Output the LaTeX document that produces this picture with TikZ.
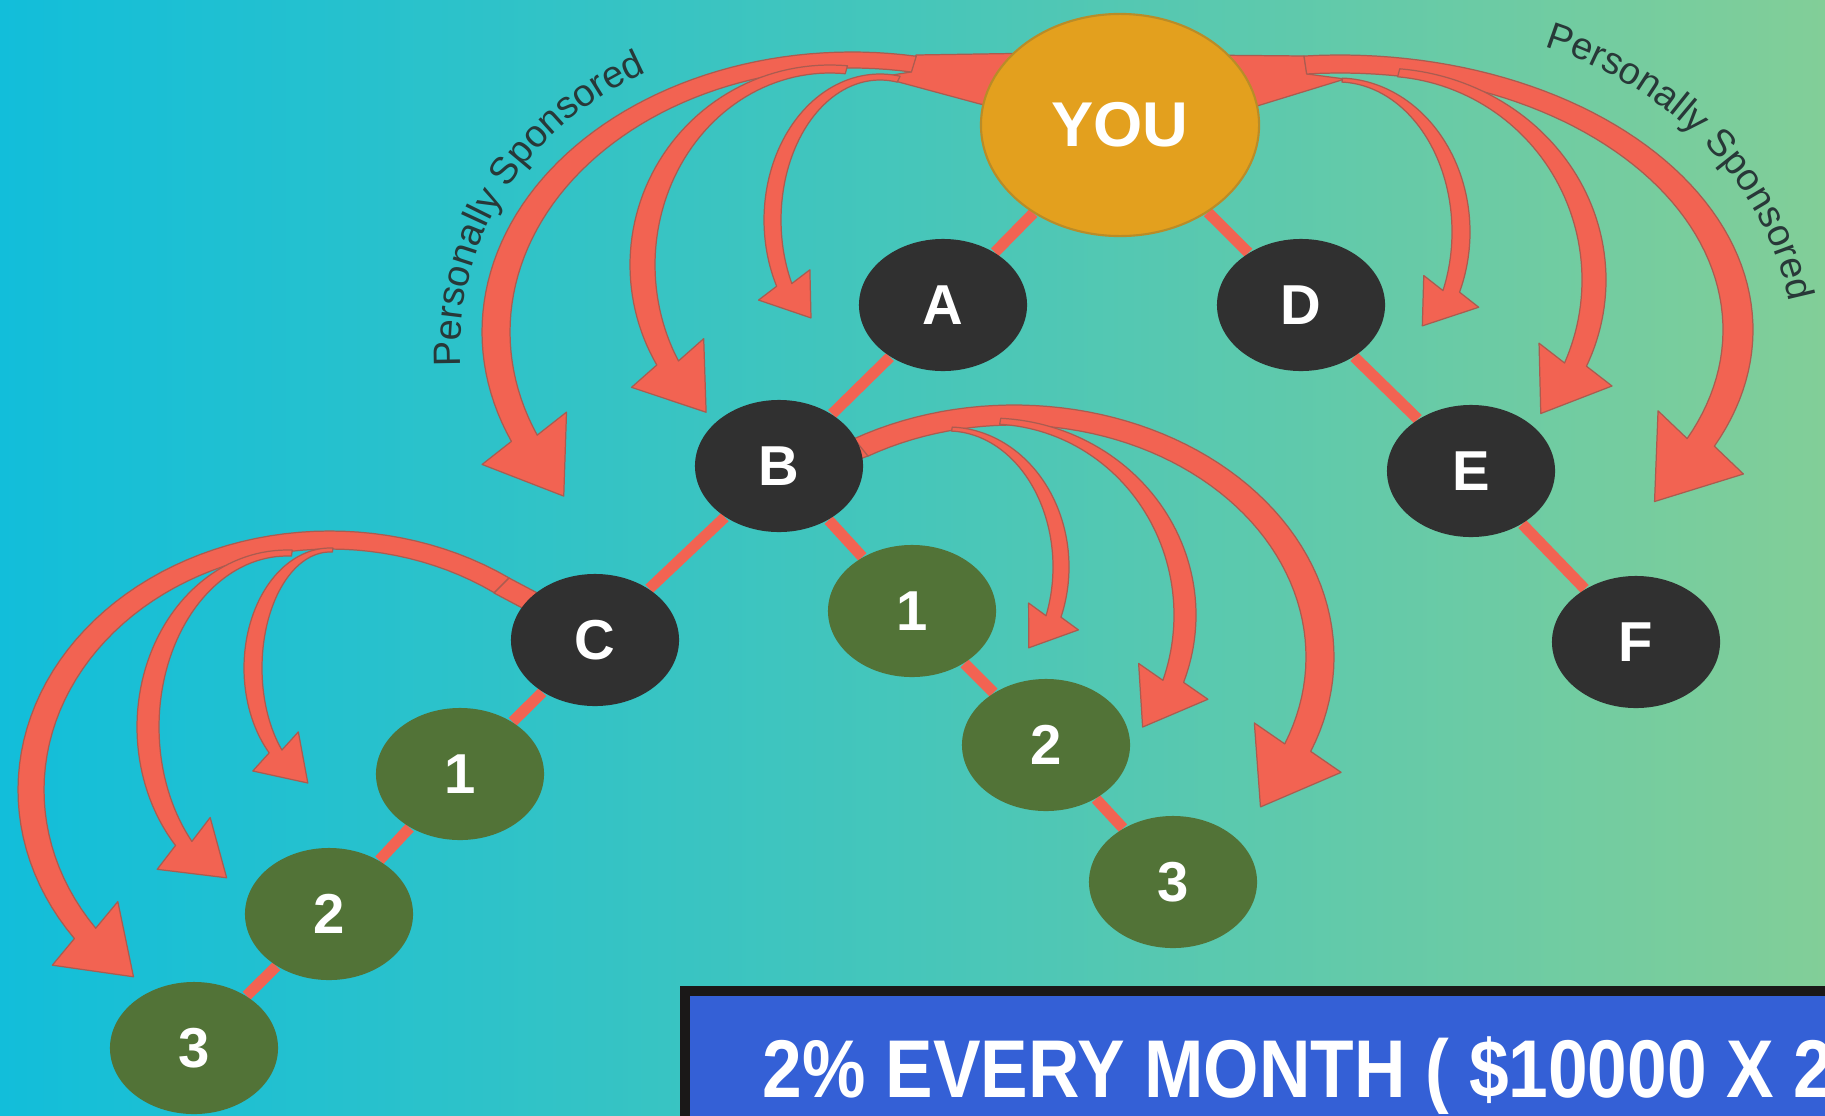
\documentclass[tikz,border=0pt]{standalone}
\usepackage{fontspec}
\setmainfont{Liberation Sans}
\usepackage{graphicx}
\usetikzlibrary{shapes.geometric,decorations.text}
\definecolor{bgL}{RGB}{18,190,218}
\definecolor{bgM}{RGB}{70,198,186}
\definecolor{bgR}{RGB}{130,206,152}
\definecolor{arrowred}{RGB}{242,99,82}
\definecolor{arrowedge}{RGB}{170,92,80}
\definecolor{nodedark}{RGB}{48,48,48}
\definecolor{nodegreen}{RGB}{82,115,55}
\definecolor{yougold}{RGB}{227,160,30}
\definecolor{youedge}{RGB}{185,140,40}
\definecolor{boxblue}{RGB}{52,96,214}
\definecolor{boxblack}{RGB}{26,24,24}
\definecolor{labelgray}{RGB}{40,56,56}
\pgfdeclarelayer{bg}
\pgfdeclarelayer{mid}
\pgfsetlayers{bg,mid,main}
% #1 cx, #2 cy, #3 a, #4 b, #5 side width, #6 top width, #7 tail angle, #8 head angle, #9 head turn
\newcommand{\swooshArrow}[9]{%
\pgfmathsetmacro{\swS}{(#8>#7)?1:-1}%
\pgfmathsetmacro{\swAi}{#3-#5}%
\pgfmathsetmacro{\swBi}{#4-#6}%
\pgfmathsetmacro{\swXo}{#1+#3*cos(#8)}%
\pgfmathsetmacro{\swYo}{#2+#4*sin(#8)}%
\pgfmathsetmacro{\swXi}{#1+\swAi*cos(#8)}%
\pgfmathsetmacro{\swYi}{#2+\swBi*sin(#8)}%
\pgfmathsetmacro{\swMx}{(\swXo+\swXi)/2}%
\pgfmathsetmacro{\swMy}{(\swYo+\swYi)/2}%
\pgfmathsetmacro{\swD}{veclen(\swXo-\swXi,\swYo-\swYi)}%
\pgfmathsetmacro{\swUx}{(\swXo-\swXi)/\swD}%
\pgfmathsetmacro{\swUy}{(\swYo-\swYi)/\swD}%
\pgfmathsetmacro{\swTx}{0-(\swS)*#3*sin(#8)}%
\pgfmathsetmacro{\swTy}{(\swS)*#4*cos(#8)}%
\pgfmathsetmacro{\swTn}{veclen(\swTx,\swTy)}%
\pgfmathsetmacro{\swRx}{((\swTx)*cos(#9)-(\swTy)*sin(#9))/\swTn}%
\pgfmathsetmacro{\swRy}{((\swTx)*sin(#9)+(\swTy)*cos(#9))/\swTn}%
\pgfmathsetmacro{\swQx}{((\swTx)*cos(#9/2)-(\swTy)*sin(#9/2))/\swTn}%
\pgfmathsetmacro{\swQy}{((\swTx)*sin(#9/2)+(\swTy)*cos(#9/2))/\swTn}%
\pgfmathsetmacro{\swSig}{(0-(\swQy)*(\swUx)+(\swQx)*(\swUy))>0?1:-1}%
\pgfmathsetmacro{\swPx}{(\swSig)*(0-(\swQy))}%
\pgfmathsetmacro{\swPy}{(\swSig)*(\swQx)}%
\pgfmathsetmacro{\swH}{\swD/2+1.3*#5}%
\pgfmathsetmacro{\swLen}{2.5*#5}%
\fill[swoosh] plot[domain=#7:#8, samples=60] ({#1+#3*cos(\x)},{#2+#4*sin(\x)})
 -- ({\swMx+\swH*\swPx},{\swMy+\swH*\swPy})
 -- ({\swMx+\swLen*\swRx},{\swMy+\swLen*\swRy})
 -- ({\swMx-\swH*\swPx},{\swMy-\swH*\swPy})
 -- plot[domain=#8:#7, samples=60] ({#1+\swAi*cos(\x)},{#2+\swBi*sin(\x)}) -- cycle;%
}
\begin{document}
\begin{tikzpicture}[x=0.01cm,y=-0.01cm,
  member/.style={ellipse, minimum width=1.68cm, minimum height=1.32cm, inner sep=0pt, text=white, font=\fontsize{16}{19}\selectfont\bfseries},
  darknode/.style={member, fill=nodedark},
  greennode/.style={member, fill=nodegreen},
  link/.style={draw=arrowred, line width=0.11cm},
  swoosh/.style={fill=arrowred, draw=arrowedge, line width=0.35pt, line join=round}
]
\useasboundingbox (0,0) rectangle (1825,1115);
\begin{pgfonlayer}{bg}
\shade[left color=bgL, right color=bgR, middle color=bgM] (0,0) rectangle (1825,1115);
\end{pgfonlayer}

% nodes
\node[ellipse, fill=yougold, draw=youedge, line width=0.6pt, minimum width=2.78cm, minimum height=2.22cm, inner sep=0pt, text=white, font=\fontsize{18}{21}\selectfont\bfseries] (you) at (1120,125) {YOU};
\node[darknode] (a) at (943,305) {A};
\node[darknode] (d) at (1301,305) {D};
\node[darknode] (b) at (779,466) {B};
\node[darknode] (e) at (1471,471) {E};
\node[darknode] (c) at (595,640) {C};
\node[darknode] (f) at (1636,642) {F};
\node[greennode] (b1) at (912,611) {1};
\node[greennode] (b2) at (1046,745) {2};
\node[greennode] (b3) at (1173,882) {3};
\node[greennode] (c1) at (460,774) {1};
\node[greennode] (c2) at (329,914) {2};
\node[greennode] (c3) at (194,1048) {3};

\begin{pgfonlayer}{mid}
% bands where the arrow groups leave their node
\fill[swoosh] (1045,53) -- (916,55) -- (911,72) -- (880,77) -- (980,104) -- (1045,117) -- cycle;
\fill[swoosh] (1195,55) -- (1304,56) -- (1307,74) -- (1345,79) -- (1257,106) -- (1195,114) -- cycle;
\fill[swoosh] (856,438) -- (830,446) -- (830,470) -- (868,456) -- cycle;
\fill[swoosh] (509,578) -- (545,597) -- (582,616) -- (560,628) -- (494,593) -- cycle;
% YOU, left side
\swooshArrow{852}{332}{370}{280}{28}{16}{280}{157}{-5}
\swooshArrow{830}{265}{200}{200}{25}{8}{275}{150}{-8}
\swooshArrow{880}{220}{116}{146}{17}{6}{280}{153}{-17}
% YOU, right side
\swooshArrow{1340}{330}{413}{275}{30}{18}{265}{385}{3}
\swooshArrow{1380}{280}{226}{212}{24}{8}{275}{384}{10}
\swooshArrow{1338}{232}{132}{154}{18}{4}{272}{383}{20}
% B
\swooshArrow{1014}{657}{320}{252}{28}{20}{240}{382}{5}
\swooshArrow{990}{615}{206}{197}{22}{6}{273}{380}{13}
\swooshArrow{948}{567}{121}{140}{16}{4}{272}{381}{20}
% C
\swooshArrow{330}{790}{312}{259}{26}{18}{305}{145}{-8}
\swooshArrow{287}{727}{150}{177}{22}{6}{272}{138}{-14}
\swooshArrow{330}{668}{86}{120}{18}{4}{272}{135}{-10}

% tree links
\draw[link] (you) -- (a);
\draw[link] (you) -- (d);
\draw[link] (a) -- (b);
\draw[link] (b) -- (c);
\draw[link] (b) -- (b1);
\draw[link] (b1) -- (b2);
\draw[link] (b2) -- (b3);
\draw[link] (c) -- (c1);
\draw[link] (c1) -- (c2);
\draw[link] (c2) -- (c3);
\draw[link] (d) -- (e);
\draw[link] (e) -- (f);
\end{pgfonlayer}

% curved labels
\path[decorate, decoration={text along path, text align=center, text={|\color{labelgray}\fontsize{10.8}{12}\selectfont|Personally Sponsored}}] (462,400) -- (461,372) .. controls (452,260) and (510,130) .. (652,70) -- (678,60);
\path[decorate, decoration={text along path, text align=center, text={|\color{labelgray}\fontsize{10.8}{12}\selectfont|Personally Sponsored}}] (1502,33) -- (1528,42) .. controls (1650,75) and (1770,170) .. (1792,318) -- (1796,346);

% banner
\node[draw=boxblack, fill=boxblue, line width=0.1cm, anchor=north west, minimum width=12cm, minimum height=2cm, inner sep=0pt] (banner) at (680,986) {};
\node[anchor=base west, inner sep=0pt, text=white, font=\fontsize{23.3}{28}\selectfont\bfseries] (headline) at (762,1097) {\scalebox{0.87}[1]{2\% EVERY MONTH ( \$10000 X 2}};
\end{tikzpicture}
\end{document}
